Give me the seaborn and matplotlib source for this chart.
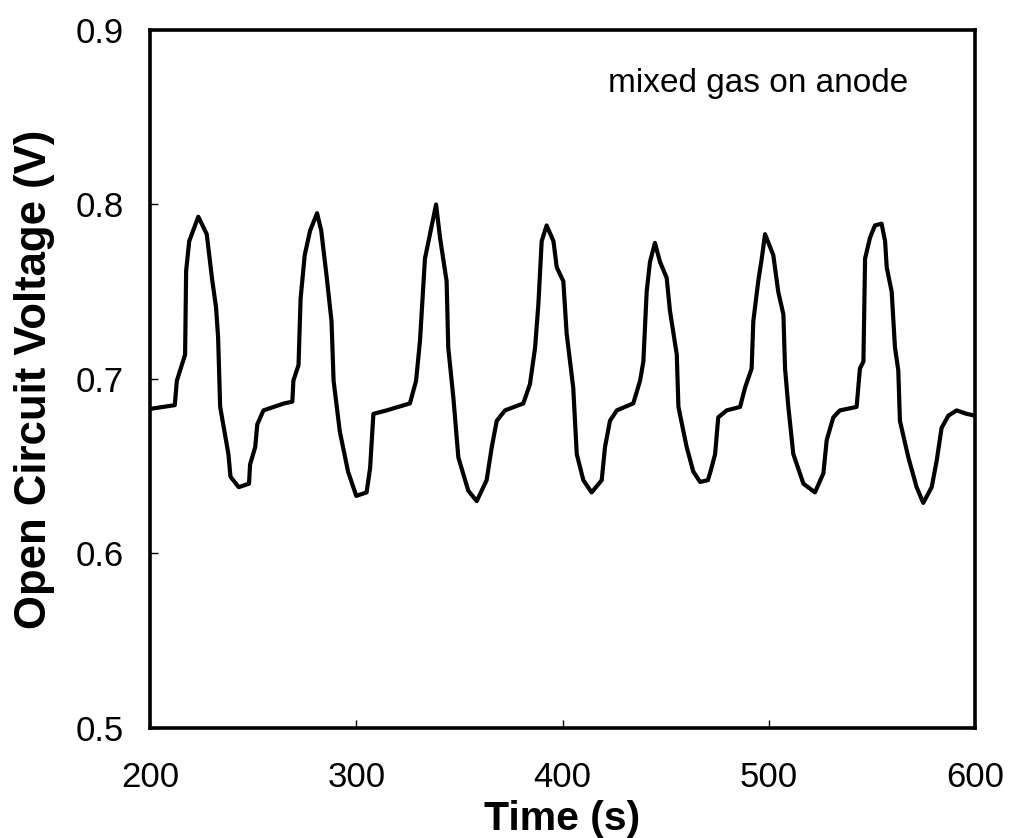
import matplotlib
matplotlib.use("Agg")
import matplotlib.pyplot as plt
import seaborn as sns
import pandas as pd

# Open circuit voltage trace recorded with mixed gas on the anode
time_s = [
    200.8, 212.0, 213.0, 217.0, 217.5, 219.0, 223.4, 227.5, 230.0, 232.0,
    233.0, 234.0, 238.0, 239.0, 243.0, 248.0, 248.5, 251.0, 252.0, 255.0,
    265.0, 269.0, 269.5, 272.0, 273.0, 275.0, 277.6, 281.0, 283.0, 285.7,
    288.0, 289.0, 292.0, 296.0, 300.0, 305.0, 306.7, 308.3, 314.7, 326.0,
    329.0, 330.9, 333.3, 336.6, 338.7, 340.6, 343.8, 344.6, 347.1, 349.5,
    354.3, 358.4, 363.2, 365.7, 368.1, 372.1, 381.0, 384.2, 386.7, 388.3,
    389.9, 392.3, 395.6, 397.2, 400.4, 402.0, 405.2, 406.9, 410.1, 414.1,
    419.0, 420.6, 423.0, 426.3, 434.3, 437.6, 439.2, 440.8, 442.4, 444.8,
    447.3, 450.5, 452.1, 455.4, 456.2, 460.2, 463.4, 466.7, 470.5, 472.0,
    474.0, 475.5, 479.6, 486.1, 488.5, 491.7, 492.5, 494.9, 496.6, 498.2,
    502.2, 504.6, 507.1, 507.9, 509.5, 511.9, 516.8, 522.4, 526.5, 528.1,
    531.3, 534.5, 542.6, 544.2, 545.9, 546.7, 549.1, 551.5, 554.7, 556.4,
    557.2, 559.6, 561.2, 562.8, 563.6, 567.7, 571.7, 574.9, 579.0, 581.4,
    583.8, 587.1, 591.1, 596.0, 600.0,
]
ocv_v = [
    0.683, 0.685, 0.699, 0.714, 0.762, 0.779, 0.793, 0.783, 0.758, 0.741,
    0.724, 0.684, 0.657, 0.644, 0.638, 0.640, 0.651, 0.661, 0.674, 0.682,
    0.686, 0.687, 0.699, 0.708, 0.746, 0.771, 0.785, 0.795, 0.785, 0.758,
    0.733, 0.699, 0.670, 0.647, 0.633, 0.635, 0.649, 0.680, 0.682, 0.686,
    0.699, 0.722, 0.769, 0.788, 0.800, 0.781, 0.756, 0.718, 0.689, 0.655,
    0.636, 0.630, 0.642, 0.661, 0.676, 0.682, 0.686, 0.697, 0.718, 0.743,
    0.779, 0.788, 0.779, 0.764, 0.756, 0.726, 0.695, 0.657, 0.642, 0.635,
    0.642, 0.661, 0.676, 0.682, 0.686, 0.699, 0.710, 0.750, 0.767, 0.778,
    0.767, 0.758, 0.739, 0.714, 0.684, 0.661, 0.647, 0.641, 0.642, 0.648,
    0.657, 0.678, 0.682, 0.684, 0.695, 0.706, 0.733, 0.756, 0.769, 0.783,
    0.771, 0.750, 0.737, 0.706, 0.684, 0.657, 0.640, 0.635, 0.646, 0.665,
    0.678, 0.682, 0.684, 0.706, 0.710, 0.769, 0.781, 0.788, 0.789, 0.779,
    0.764, 0.750, 0.718, 0.705, 0.676, 0.655, 0.638, 0.629, 0.638, 0.653,
    0.672, 0.679, 0.682, 0.680, 0.679,
]

x_ticks = [200, 300, 400, 500, 600]
x_tick_labels = ["200", "300", "400", "500", "600"]
y_ticks = [0.5, 0.6, 0.7, 0.8, 0.9]
y_tick_labels = ["0.5", "0.6", "0.7", "0.8", "0.9"]

x_title = "Time (s)"
y_title = "Open Circuit Voltage (V)"
note = "mixed gas on anode"

sns.set_theme(style="white")
plt.rcParams["font.family"] = ["Liberation Sans", "DejaVu Sans"]
narrow = ["Liberation Sans Narrow", "Liberation Sans", "DejaVu Sans"]

df = pd.DataFrame({"time": time_s, "ocv": ocv_v})

fig = plt.figure(figsize=(10.09, 8.38), dpi=100)
ax = fig.add_axes([0.1487, 0.1313, 0.8176, 0.8329])

sns.lineplot(data=df, x="time", y="ocv", ax=ax, color="black",
             linewidth=3.0, sort=False, estimator=None)

ax.set_xlim(200, 600)
ax.set_ylim(0.5, 0.9)
ax.set_xticks(x_ticks)
ax.set_xticklabels(x_tick_labels, family=narrow, fontsize=25)
ax.set_yticks(y_ticks)
ax.set_yticklabels(y_tick_labels, family=narrow, fontsize=25)

ax.tick_params(axis="both", direction="in", length=6, width=1,
               colors="black", bottom=True, left=True)
ax.tick_params(axis="x", pad=24)
ax.tick_params(axis="y", pad=19)

for side in ["left", "right", "top", "bottom"]:
    ax.spines[side].set_visible(True)
    ax.spines[side].set_color("black")
    ax.spines[side].set_linewidth(2.6)

ax.set_xlabel(x_title, fontsize=29.5, fontweight="bold", color="black")
ax.set_ylabel(y_title, fontsize=31.5, fontweight="bold", color="black")
ax.xaxis.set_label_coords(0.5, -0.103)
ax.yaxis.set_label_coords(-0.115, 0.5)

ax.text(0.555, 0.911, note, transform=ax.transAxes, fontsize=24,
        family=narrow, color="black", ha="left", va="baseline")

fig.savefig("out.png", dpi=100)
